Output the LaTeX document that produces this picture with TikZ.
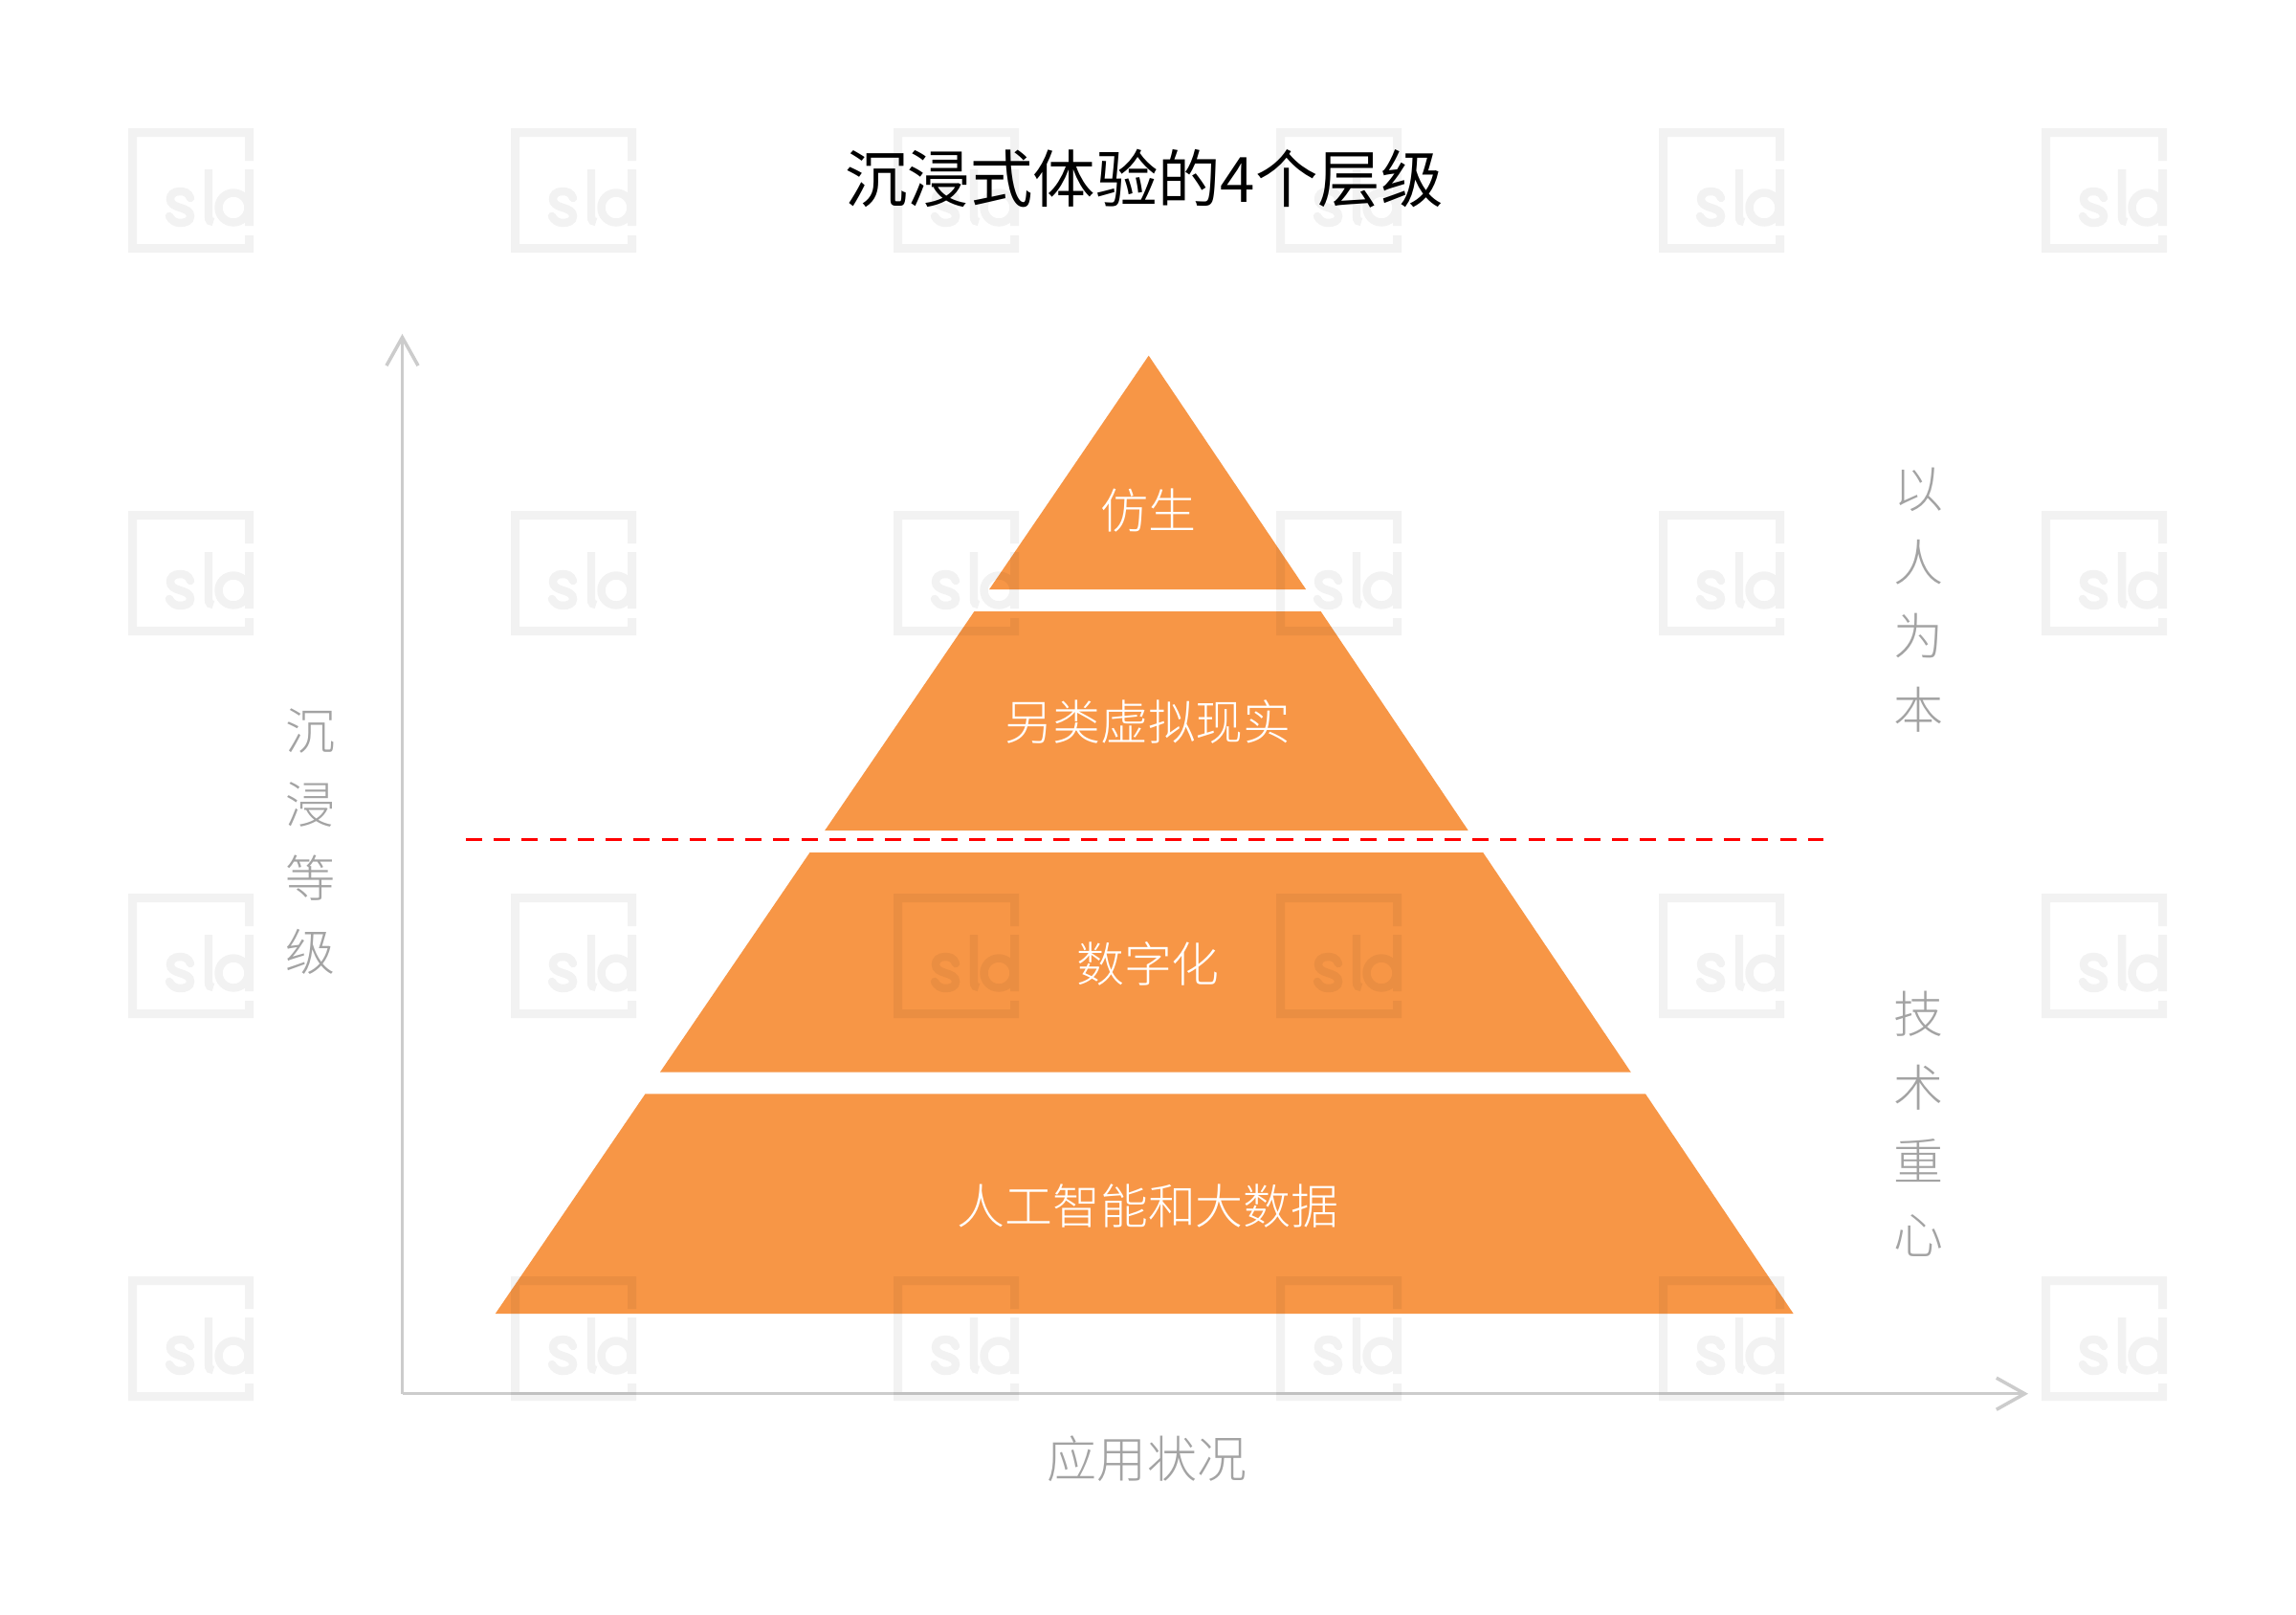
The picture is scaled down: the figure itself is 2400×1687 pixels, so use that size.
\documentclass[tikz,border=0pt]{standalone}
\usepackage{fontspec}
\usetikzlibrary{arrows.meta}
\setmainfont{Noto Sans CJK SC Light}
\newfontfamily\titlefont{Noto Sans CJK SC}
\definecolor{tierorange}{HTML}{F79646}
\definecolor{axisgrey}{HTML}{CCCCCC}
\definecolor{labelgrey}{HTML}{A3A3A3}
\definecolor{cutred}{HTML}{FF0000}
\tikzset{
  tier/.style={fill=tierorange,draw=none},
  axisline/.style={draw=axisgrey,line width=1pt,-{Straight Barb[length=8.4pt,width=9.4pt]}},
  cutline/.style={draw=cutred,line width=1.05pt,dash pattern=on 4.84pt off 3.47pt},
  tierlabel/.style={text=white,inner sep=0pt,font=\fontsize{14.2pt}{17pt}\selectfont},
  sidelabel/.style={text=labelgrey,inner sep=0pt,align=center,font=\fontsize{14.8pt}{21.9pt}\selectfont},
  axislabel/.style={text=labelgrey,inner sep=0pt,font=\fontsize{14.8pt}{18pt}\selectfont},
  titlelabel/.style={text=black,inner sep=0pt,font=\titlefont\fontsize{18.6pt}{22pt}\selectfont},
  wmfill/.style={fill=black,draw=none},
  wmstroke/.style={draw=black,line width=2.4pt,line cap=round,fill=none}
}
\begin{document}
\begin{tikzpicture}[x=0.01cm,y=-0.01cm]
\useasboundingbox (0,0) rectangle (2400,1687);
\fill[white] (0,0) rectangle (2400,1687);
% pyramid tiers
\fill[tier] (1200.7,371.7) -- (1365.1,616) -- (1034.1,616) -- cycle;
\fill[tier] (1018.4,639) -- (1380.6,639) -- (1534.7,868) -- (862.2,868) -- cycle;
\fill[tier] (846.5,891) -- (1550.2,891) -- (1704.8,1120.7) -- (689.9,1120.7) -- cycle;
\fill[tier] (674.5,1143.3) -- (1720,1143.3) -- (1874.6,1373) -- (517.8,1373) -- cycle;
% axes
\coordinate (origin) at (420.5,1456.7);
\coordinate (ytip) at (420.5,349);
\coordinate (xtip) at (2120,1456.7);
\draw[axisline] (origin) -- (ytip);
\draw[axisline] (origin) -- (xtip);
% cut line
\coordinate (cutstart) at (487,877.5);
\coordinate (cutend) at (1905.6,877.5);
\draw[cutline] (cutstart) -- (cutend);
% watermarks
\begin{scope}[transparency group,opacity=0.05]
\foreach \wx in {134,534,934,1334,1734,2134}{
  \foreach \wy in {134,534,934,1334}{
    \begin{scope}[shift={(\wx,\wy)}]
      \fill[wmfill] (0,0) -- (131,0) -- (131,34) -- (122,34) -- (122,9) -- (9,9) -- (9,121) -- (122,121) -- (122,112) -- (131,112) -- (131,130) -- (0,130) -- cycle;
      \fill[wmfill] (122,43) rectangle (131,102);
      \draw[wmstroke] (65,73) .. controls (63,67) and (58,66) .. (54,66) .. controls (47,66) and (44,70) .. (44,74) .. controls (44,79) and (48,81) .. (54,83) .. controls (61,85) and (65,87) .. (65,92) .. controls (65,97) and (60,99) .. (54,99) .. controls (49,99) and (45,96) .. (43,92);
      \draw[wmstroke,line cap=butt] (84,43) -- (84,92) .. controls (84,97) and (86,98) .. (89,98);
      \draw[wmstroke,line cap=butt] (110,83) circle (15.5);
    \end{scope}
  }
}
\end{scope}
% text
\node[titlelabel] (title) at (1196,187) {沉浸式体验的4个层级};
\node[tierlabel] (t1) at (1200,534) {仿生};
\node[tierlabel] (t2) at (1200,755) {另类虚拟现实};
\node[tierlabel] (t3) at (1200,1007) {数字化};
\node[tierlabel] (t4) at (1200,1260) {人工智能和大数据};
\node[sidelabel] (ylabel) at (324.5,880) {沉\\浸\\等\\级};
\node[sidelabel] (toplabel) at (2005,627) {以\\人\\为\\本};
\node[sidelabel] (botlabel) at (2005,1175) {技\\术\\重\\心};
\node[axislabel] (xlabel) at (1199,1525) {应用状况};
\end{tikzpicture}
\end{document}
